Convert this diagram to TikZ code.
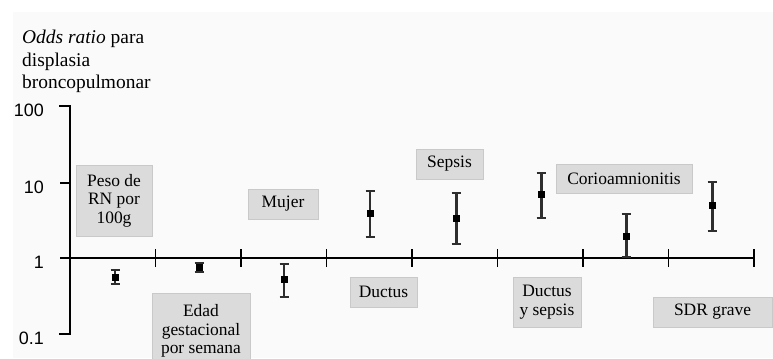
\documentclass[tikz,border=0pt]{standalone}
\usepackage{fontspec}
\setmainfont{Liberation Serif}
\newfontfamily\axisfont{Liberation Sans}
\begin{document}
\begin{tikzpicture}[x=1bp,y=-1bp,
  lab/.style={draw=black!21,line width=0.7pt,fill=black!14,inner sep=0pt,
    align=center,font=\fontsize{17.5}{18.5}\selectfont},
  tick/.style={line width=1.8pt,black},
  axis/.style={line width=2.2pt,black},
  ebar/.style={line width=3pt,black!82},
  ecap/.style={line width=2pt,black!82},
  est/.style={fill=black,draw=none,minimum size=7bp,inner sep=0pt},
  ylab/.style={anchor=east,font=\axisfont\fontsize{18}{18}\selectfont,inner sep=0pt}]
\useasboundingbox (0,0) rectangle (773,358);
\clip (0,0) rectangle (773,358);
% page background
\fill[white] (0,0) rectangle (773,358);
\fill[black!2] (13,12) rectangle (773,358);

% axis title
\node[anchor=north west,inner sep=0pt,align=left,font=\fontsize{19.5}{22.5}\selectfont] (title) at (22,30)
  {\textit{Odds ratio} para\\displasia\\broncopulmonar};

% y axis with its ticks
\coordinate (y100) at (70,106);
\coordinate (y10) at (70,183);
\coordinate (y1) at (70,258);
\coordinate (y01) at (70,334);
\coordinate (t100) at (60,106);
\coordinate (t10) at (60,183);
\coordinate (t1) at (60,258);
\coordinate (t01) at (60,334);
\draw[axis,line cap=rect] (t100) -- (y100) -- (y01) -- (t01);
\draw[axis] (t10) -- (y10);
\node[ylab] (l100) at (44,110) {100};
\node[ylab] (l10) at (44,187) {10};
\node[ylab] (l1) at (44,262) {1};
\node[ylab] (l01) at (44,338) {0.1};

% x axis at OR = 1 with category separators
\coordinate (xend) at (754,258);
\draw[axis] (t1) -- (xend);
\foreach \i/\xx in {1/155.5,2/241,3/326.5,4/412,5/497.5,6/583,7/668.5,8/754}{
  \coordinate (sa\i) at (\xx,249);
  \coordinate (sb\i) at (\xx,267);
  \draw[tick] (sa\i) -- (sb\i);
}

% label boxes
\node[lab,minimum width=76bp,minimum height=71bp] (peso) at (114,200.5) {Peso de\\RN por\\100g};
\node[lab,minimum width=98bp,minimum height=76bp] (edad) at (201,331) {Edad\\gestacional\\por semana};
\node[lab,minimum width=70bp,minimum height=30bp] (mujer) at (283,204) {Mujer};
\node[lab,minimum width=67bp,minimum height=30bp] (ductus) at (383.5,292) {Ductus};
\node[lab,minimum width=67bp,minimum height=30bp] (sepsis) at (449.5,164) {Sepsis};
\node[lab,minimum width=68bp,minimum height=50bp] (dysep) at (547,302) {Ductus\\y sepsis};
\node[lab,minimum width=136bp,minimum height=29bp] (corio) at (624,178.5) {Corioamnionitis};
\node[lab,minimum width=119bp,minimum height=30bp] (sdr) at (712.5,312) {SDR grave};

% odds ratios with confidence intervals
\foreach \i/\xx/\m/\lo/\hi in {1/115/277/284/270, 2/199/267/272/263, 3/284/279/297/264,
    4/370/213/237/191, 5/456/218/244/193, 6/541/194/218/173, 7/626/236/257/214, 8/712/205/231/182}{
  \coordinate (lo\i) at (\xx,\lo);
  \coordinate (hi\i) at (\xx,\hi);
  \coordinate (lol\i) at (\xx-4.5,\lo);
  \coordinate (lor\i) at (\xx+4.5,\lo);
  \coordinate (hil\i) at (\xx-4.5,\hi);
  \coordinate (hir\i) at (\xx+4.5,\hi);
  \draw[ebar] (lo\i) -- (hi\i);
  \draw[ecap] (lol\i) -- (lor\i);
  \draw[ecap] (hil\i) -- (hir\i);
  \node[est] (or\i) at (\xx,\m) {};
}
\end{tikzpicture}
\end{document}
